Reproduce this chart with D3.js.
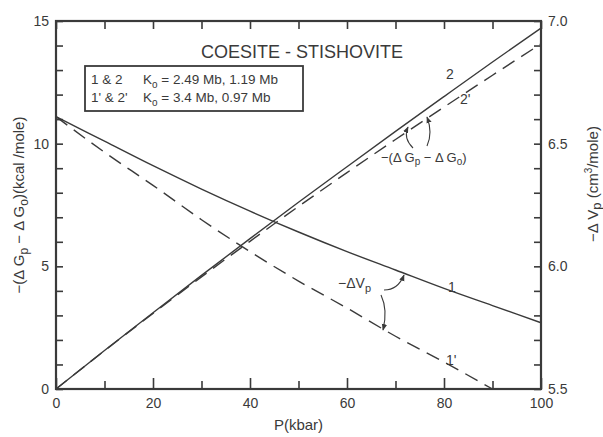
<!DOCTYPE html>
<html>
<head>
<meta charset="utf-8">
<script src="https://cdn.jsdelivr.net/npm/d3@7"></script>
<style>
  body { margin: 0; background: #fff; }
  svg text { font-family: "Liberation Sans", Arial, sans-serif; fill: #3a3a3a; }
</style>
</head>
<body>
<div id="chart"></div>
<script>
// pressure (kbar)
const pressure = [0, 10, 20, 30, 40, 50, 60, 70, 80, 90, 100];
// -dV (cm3/mole), curves 1 and 1'
const dV1 = [6.61, 6.51, 6.41, 6.315, 6.225, 6.14, 6.06, 5.985, 5.91, 5.84, 5.77];
const dV1p = [6.61, 6.465, 6.33, 6.19, 6.06, 5.94, 5.83, 5.715, 5.61, 5.50];
// -(dGp - dG0) (kcal/mole), curves 2 and 2'
const dG2 = [0, 1.57, 3.11, 4.63, 6.13, 7.61, 9.06, 10.50, 11.92, 13.33, 14.71];
const dG2p = [0, 1.56, 3.08, 4.57, 6.02, 7.44, 8.82, 10.17, 11.49, 12.79, 14.07];

const xTicks = d3.range(0, 101, 10);
const leftTicks = d3.range(0, 16, 1);
const rightTicks = d3.range(55, 71, 1).map(d => d / 10);

const W = 603, H = 437;
const margin = { top: 21, right: 62, bottom: 48, left: 56 };
const ink = "#3a3a3a";

const svg = d3.select("#chart").append("svg")
    .attr("width", W)
    .attr("height", H);

const x = d3.scaleLinear().domain([0, 100]).range([margin.left, W - margin.right]);
const yL = d3.scaleLinear().domain([0, 15]).range([H - margin.bottom, margin.top]);
const yR = d3.scaleLinear().domain([5.5, 7.0]).range([H - margin.bottom, margin.top]);

// axes (ticks pointing inward)
function styleAxis(g) {
    g.select(".domain").remove();
    g.selectAll(".tick line").attr("stroke", ink).attr("stroke-width", 1.6);
    g.selectAll(".tick text").attr("font-size", 14).style("fill", ink);
}

svg.append("g")
    .attr("transform", "translate(" + margin.left + ",0)")
    .call(d3.axisLeft(yL).tickValues(leftTicks).tickSize(-7).tickPadding(7)
        .tickFormat(d => d % 5 === 0 ? d : ""))
    .call(styleAxis);

svg.append("g")
    .attr("transform", "translate(" + (W - margin.right) + ",0)")
    .call(d3.axisRight(yR).tickValues(rightTicks).tickSize(-7).tickPadding(7)
        .tickFormat(d => Math.round(d * 10) % 5 === 0 ? d3.format(".1f")(d) : ""))
    .call(styleAxis);

const bottomAxis = svg.append("g")
    .attr("transform", "translate(0," + (H - margin.bottom) + ")")
    .call(d3.axisBottom(x).tickValues(xTicks).tickSize(-8).tickPadding(9)
        .tickFormat(d => d % 20 === 0 ? d : ""))
    .call(styleAxis);
bottomAxis.selectAll(".tick line").attr("y2", d => d % 20 === 0 ? -11 : -8);

svg.append("g")
    .attr("transform", "translate(0," + margin.top + ")")
    .call(d3.axisTop(x).tickValues(xTicks).tickSize(-8).tickFormat(""))
    .call(styleAxis);

// frame
svg.append("rect")
    .attr("x", x(0))
    .attr("y", yL(15))
    .attr("width", x(100) - x(0))
    .attr("height", yL(0) - yL(15))
    .attr("fill", "none")
    .attr("stroke", ink)
    .attr("stroke-width", 2.2);

// curves
const lineL = d3.line().x((d, i) => x(pressure[i])).y(d => yL(d)).curve(d3.curveMonotoneX);
const lineR = d3.line().x((d, i) => x(pressure[i])).y(d => yR(d)).curve(d3.curveMonotoneX);

function drawCurve(data, gen, dashed) {
    svg.append("path")
        .datum(data)
        .attr("d", gen)
        .attr("fill", "none")
        .attr("stroke", ink)
        .attr("stroke-width", 1.4)
        .attr("stroke-dasharray", dashed ? "14,8" : null);
}
drawCurve(dV1, lineR, false);
drawCurve(dV1p, lineR, true);
drawCurve(dG2, lineL, false);
drawCurve(dG2p, lineL, true);

// title
svg.append("text")
    .attr("x", 302)
    .attr("y", 58)
    .attr("text-anchor", "middle")
    .attr("font-size", 18)
    .text("COESITE - STISHOVITE");

// parameter box
svg.append("rect")
    .attr("x", 85).attr("y", 66)
    .attr("width", 218).attr("height", 45)
    .attr("fill", "#fff")
    .attr("stroke", ink)
    .attr("stroke-width", 1.8);

const boxRows = [
    { tag: "1 & 2", val: " = 2.49 Mb, 1.19 Mb" },
    { tag: "1' & 2'", val: " = 3.4 Mb, 0.97 Mb" }
];
boxRows.forEach((r, i) => {
    const t = svg.append("text").attr("y", 84 + i * 18).attr("font-size", 13.5);
    t.append("tspan").attr("x", 91).text(r.tag);
    t.append("tspan").attr("x", 143).text("K");
    t.append("tspan").attr("dy", 4).attr("font-size", 10).text("o");
    t.append("tspan").attr("dy", -4).text(r.val);
});

// curve labels
function label(txt, px, py, size) {
    svg.append("text").attr("x", px).attr("y", py).attr("font-size", size || 14).text(txt);
}
label("2", 446, 79);
label("2'", 460, 104);
label("1", 448, 292);
label("1'", 446, 365);

// -(dGp - dG0) annotation
const gLab = svg.append("text").attr("x", 381).attr("y", 162).attr("font-size", 13);
gLab.append("tspan").text("−(Δ G");
gLab.append("tspan").attr("dy", 3).attr("font-size", 10).text("p");
gLab.append("tspan").attr("dy", -3).text(" − Δ G");
gLab.append("tspan").attr("dy", 3).attr("font-size", 10).text("o");
gLab.append("tspan").attr("dy", -3).text(")");

// -dVp annotation
const vLab = svg.append("text").attr("x", 338).attr("y", 288).attr("font-size", 14);
vLab.append("tspan").text("−ΔV");
vLab.append("tspan").attr("dy", 4).attr("font-size", 11).text("p");

// arrows
svg.append("defs").append("marker")
    .attr("id", "arr")
    .attr("viewBox", "0 0 10 10")
    .attr("refX", 9).attr("refY", 5)
    .attr("markerWidth", 6).attr("markerHeight", 6)
    .attr("orient", "auto")
    .append("path")
    .attr("d", "M0,1L10,5L0,9Z")
    .attr("fill", ink);

const arrows = [
    "M413,148 Q403,138 408,127",
    "M427,146 Q433,133 427,117",
    "M384,290 Q398,290 404,275",
    "M381,295 Q388,310 383,330"
];
arrows.forEach(d => {
    svg.append("path")
        .attr("d", d)
        .attr("fill", "none")
        .attr("stroke", ink)
        .attr("stroke-width", 1.1)
        .attr("marker-end", "url(#arr)");
});

// axis titles
const yTitle = svg.append("text")
    .attr("transform", "translate(24,205) rotate(-90)")
    .attr("text-anchor", "middle")
    .attr("font-size", 15);
yTitle.append("tspan").text("−(Δ G");
yTitle.append("tspan").attr("dy", 4).attr("font-size", 12).text("p");
yTitle.append("tspan").attr("dy", -4).text(" − Δ G");
yTitle.append("tspan").attr("dy", 4).attr("font-size", 12).text("o");
yTitle.append("tspan").attr("dy", -4).text(")(kcal /mole)");

const rTitle = svg.append("text")
    .attr("transform", "translate(598,184) rotate(-90)")
    .attr("text-anchor", "middle")
    .attr("font-size", 15);
rTitle.append("tspan").text("−Δ V");
rTitle.append("tspan").attr("dy", 3).attr("font-size", 13).text("p");
rTitle.append("tspan").attr("dy", -3).text(" (cm");
rTitle.append("tspan").attr("dy", -6).attr("font-size", 10).text("3");
rTitle.append("tspan").attr("dy", 6).text("/mole)");

svg.append("text")
    .attr("x", x(50))
    .attr("y", 430)
    .attr("text-anchor", "middle")
    .attr("font-size", 15)
    .text("P(kbar)");
</script>
</body>
</html>
